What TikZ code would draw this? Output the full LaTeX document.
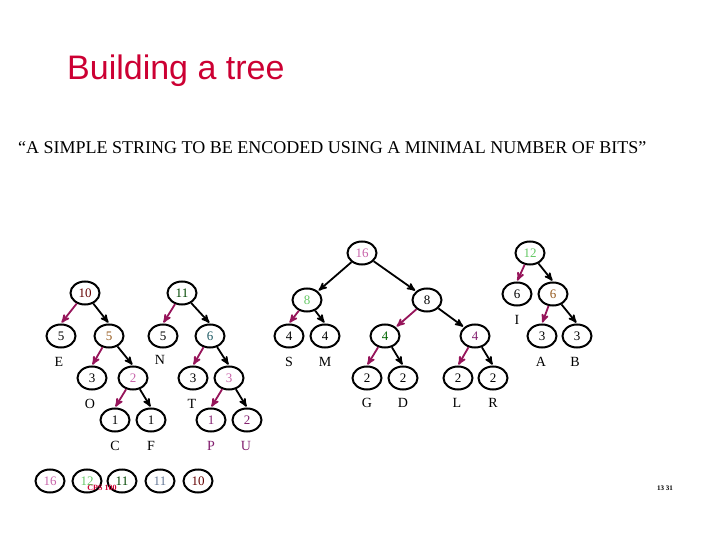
\documentclass[tikz,border=0pt]{standalone}
\usepackage{fontspec}
\setmainfont{Liberation Serif}
\setsansfont{Liberation Sans}
\usepackage{tikz}
\usetikzlibrary{arrows,shapes.geometric,positioning}
\definecolor{titlered}{RGB}{204,0,51}
\definecolor{leftarc}{RGB}{150,20,90}
\definecolor{cpink}{RGB}{200,100,170}
\definecolor{cgreen}{RGB}{100,200,100}
\definecolor{cdkgreen}{RGB}{0,70,0}
\definecolor{cslate}{RGB}{100,120,150}
\definecolor{cdkred}{RGB}{100,0,0}
\definecolor{cbrown}{RGB}{150,90,30}
\definecolor{cteal}{RGB}{30,90,100}
\definecolor{cpurple}{RGB}{130,30,110}
\definecolor{cmidgreen}{RGB}{0,100,0}
\tikzset{>=stealth'}
\tikzstyle{cnt}  = [ellipse,draw,line width=2pt,minimum width=29pt,minimum height=23pt,inner sep=0pt,font=\fontsize{13}{13}\selectfont]
\tikzstyle{lab}  = [font=\fontsize{14}{14}\selectfont]
\tikzstyle{zero} = [->,line width=1.8pt,leftarc,shorten >=1pt]
\tikzstyle{one}  = [->,line width=1.8pt,black,shorten >=1pt]
\begin{document}
\begin{tikzpicture}[x=1pt,y=-1pt]
  \useasboundingbox (0,0) rectangle (720,540);
  \node[font=\sffamily\fontsize{34}{34}\selectfont,text=titlered,anchor=west,inner sep=0pt] (title) at (67,71) {Building a tree};
  \node[font=\fontsize{18}{18}\selectfont,anchor=west,inner sep=0pt] (msg) at (18,148)
    {``A SIMPLE STRING TO BE ENCODED USING A MINIMAL NUMBER OF BITS''};
  % first tree
  \node[cnt,text=cdkred] (t10) at (85,293) {10};
  \node[cnt] (e5) at (61,336) {5};
  \node[cnt,text=cbrown] (n5a) at (109,336) {5};
  \node[cnt] (o3) at (92,378) {3};
  \node[cnt,text=cpink] (n2a) at (133,378) {2};
  \node[cnt] (c1) at (115,420) {1};
  \node[cnt] (f1) at (151,420) {1};
  \node[lab] (le) at (59,362) {E};
  \node[lab] (lo) at (90,404) {O};
  \node[lab] (lc) at (115,446) {C};
  \node[lab] (lf) at (151,446) {F};
  \draw[zero] (t10) -- (e5.north);
  \draw[one] (t10) -- (n5a.north);
  \draw[zero] (n5a) -- (o3.north);
  \draw[one] (n5a) -- (n2a.north);
  \draw[zero] (n2a) -- (c1.north);
  \draw[one] (n2a) -- (f1.north);
  % second tree
  \node[cnt,text=cdkgreen] (t11) at (182,293) {11};
  \node[cnt] (n5b) at (163,336) {5};
  \node[cnt,text=cteal] (n6a) at (210,336) {6};
  \node[cnt] (t3) at (193,378) {3};
  \node[cnt,text=cpink] (n3a) at (229,378) {3};
  \node[cnt,text=cpurple] (p1) at (211,420) {1};
  \node[cnt,text=cpurple] (u2) at (247,420) {2};
  \node[lab] (ln) at (160,360) {N};
  \node[lab] (lt) at (192,404) {T};
  \node[lab,text=cpurple] (lp) at (211,446) {P};
  \node[lab,text=cpurple] (lu) at (246,446) {U};
  \draw[zero] (t11) -- (n5b.north);
  \draw[one] (t11) -- (n6a.north);
  \draw[zero] (n6a) -- (t3.north);
  \draw[one] (n6a) -- (n3a.north);
  \draw[zero] (n3a) -- (p1.north);
  \draw[one] (n3a) -- (u2.north);
  % third tree
  \node[cnt,text=cpink] (t16) at (362,253) {16};
  \node[cnt,text=cgreen] (n8a) at (307,300) {8};
  \node[cnt] (n8b) at (427,300) {8};
  \node[cnt] (s4) at (289,336) {4};
  \node[cnt] (m4) at (325,336) {4};
  \node[cnt,text=cmidgreen] (n4a) at (385,336) {4};
  \node[cnt,text=cpurple] (n4b) at (475,336) {4};
  \node[cnt] (g2) at (367,378) {2};
  \node[cnt] (d2) at (403,378) {2};
  \node[cnt] (l2) at (458,378) {2};
  \node[cnt] (r2) at (493,378) {2};
  \node[lab] (ls) at (289,362) {S};
  \node[lab] (lm) at (325,362) {M};
  \node[lab] (lg) at (367,403) {G};
  \node[lab] (ld) at (403,403) {D};
  \node[lab] (ll) at (457,403) {L};
  \node[lab] (lr) at (493,403) {R};
  \draw[one] (t16) -- (n8a.north east);
  \draw[one] (t16) -- (n8b.north west);
  \draw[zero] (n8a) -- (s4.north);
  \draw[one] (n8a) -- (m4.north);
  \draw[zero] (n8b) -- (n4a.north east);
  \draw[one] (n8b) -- (n4b.north west);
  \draw[zero] (n4a) -- (g2.north);
  \draw[one] (n4a) -- (d2.north);
  \draw[zero] (n4b) -- (l2.north);
  \draw[one] (n4b) -- (r2.north);
  % fourth tree
  \node[cnt,text=cgreen] (t12) at (530,253) {12};
  \node[cnt] (i6) at (517,294) {6};
  \node[cnt,text=cbrown] (n6b) at (553,294) {6};
  \node[cnt] (a3) at (542,336) {3};
  \node[cnt] (b3) at (577,336) {3};
  \node[lab] (li) at (517,320) {I};
  \node[lab] (la) at (541,362) {A};
  \node[lab] (lb) at (575,362) {B};
  \draw[zero] (t12) -- (i6.north);
  \draw[one] (t12) -- (n6b.north);
  \draw[zero] (n6b) -- (a3.north);
  \draw[one] (n6b) -- (b3.north);
  % queue
  \node[cnt,text=cpink] (q16) at (50,481) {16};
  \node[cnt,text=cgreen] (q12) at (87,481) {12};
  \node[cnt,text=cdkgreen] (q11a) at (122,481) {11};
  \node[cnt,text=cslate] (q11b) at (160,481) {11};
  \node[cnt,text=cdkred] (q10) at (198,481) {10};
  \node[font=\bfseries\fontsize{8}{8}\selectfont,text=titlered] (cps) at (102,488) {CPS 100};
  \node[font=\bfseries\fontsize{7}{7}\selectfont] (pg) at (665,488) {13 31};
\end{tikzpicture}
\end{document}
